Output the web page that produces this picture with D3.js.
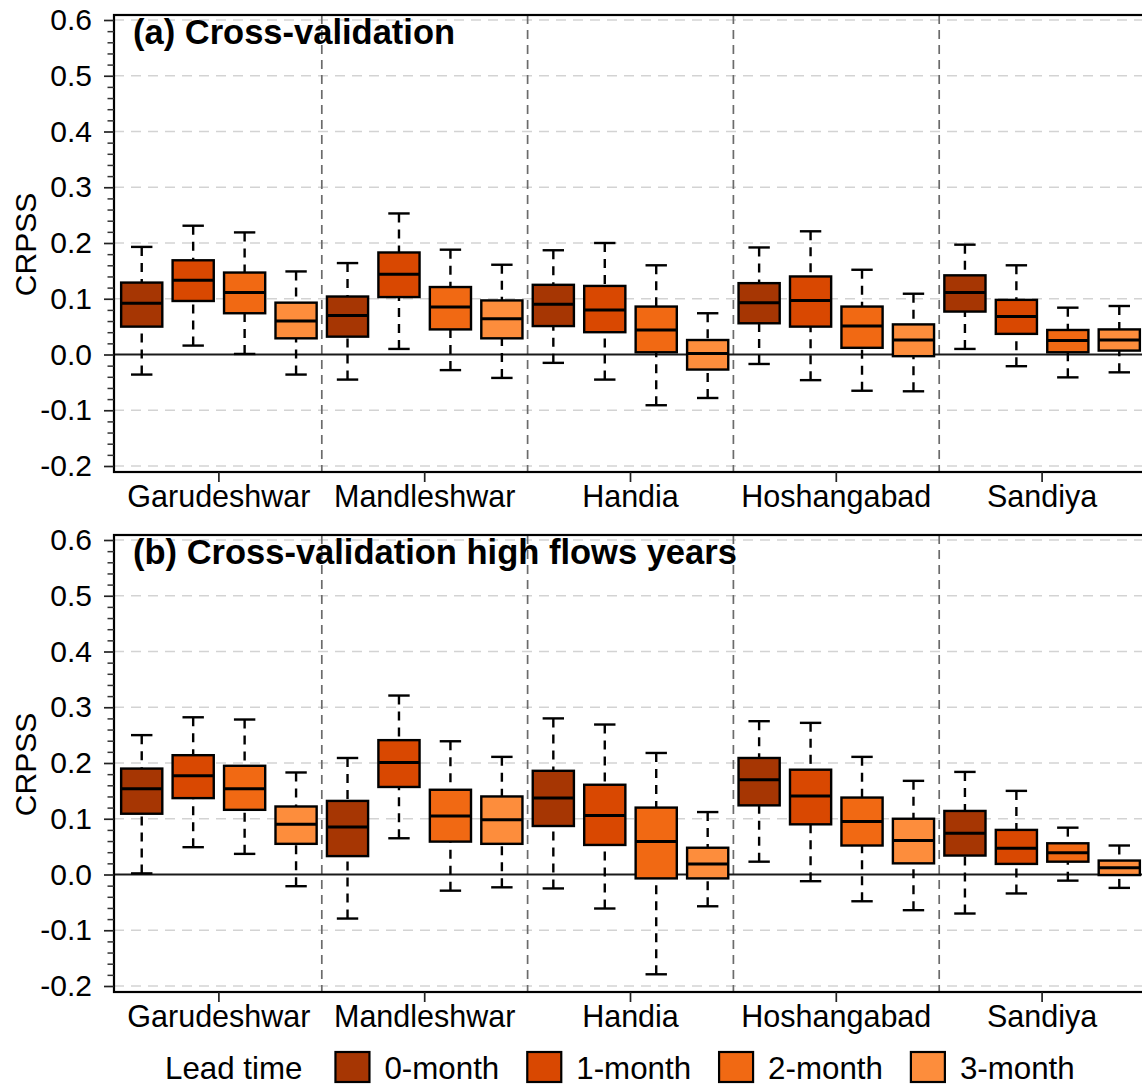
<!DOCTYPE html>
<html>
<head>
<meta charset="utf-8">
<script src="https://cdn.jsdelivr.net/npm/d3@7"></script>
<style>
  body { margin: 0; background: #fff; }
  svg { display: block; font-family: "Liberation Sans", Arial, Helvetica, sans-serif; }
</style>
</head>
<body>
<svg id="chart" width="1142" height="1086"></svg>
<script>
// Gauging stations and forecast lead times
const stations = ["Garudeshwar", "Mandleshwar", "Handia", "Hoshangabad", "Sandiya"];
const leadTimes = ["0-month", "1-month", "2-month", "3-month"];
const leadColors = ["#a63603", "#d94801", "#f16913", "#fd8d3c"];

// y-axis ticks
const majorTicks = [-0.2, -0.1, 0.0, 0.1, 0.2, 0.3, 0.4, 0.5, 0.6];
const minorTicks = d3.range(-20, 61, 2).map(v => v / 100).filter(v => Math.round(v * 100) % 10 !== 0);

// Five-number summaries [min, q1, median, q3, max] per station, per lead time
// (a) all cross-validation years
const crossValidation = [
  [[-0.036, 0.050, 0.092, 0.129, 0.193], [0.016, 0.096, 0.133, 0.169, 0.231], [0.001, 0.074, 0.111, 0.147, 0.219], [-0.036, 0.029, 0.060, 0.093, 0.149]],
  [[-0.045, 0.032, 0.070, 0.104, 0.164], [0.010, 0.103, 0.144, 0.183, 0.253], [-0.028, 0.045, 0.085, 0.121, 0.188], [-0.042, 0.029, 0.064, 0.097, 0.161]],
  [[-0.015, 0.051, 0.090, 0.125, 0.187], [-0.045, 0.040, 0.080, 0.123, 0.200], [-0.091, 0.004, 0.044, 0.086, 0.160], [-0.078, -0.027, 0.002, 0.026, 0.074]],
  [[-0.017, 0.056, 0.093, 0.128, 0.192], [-0.046, 0.050, 0.097, 0.140, 0.221], [-0.065, 0.012, 0.051, 0.086, 0.152], [-0.066, -0.003, 0.026, 0.054, 0.109]],
  [[0.010, 0.077, 0.111, 0.142, 0.197], [-0.021, 0.037, 0.068, 0.098, 0.160], [-0.041, 0.004, 0.025, 0.044, 0.084], [-0.032, 0.007, 0.026, 0.045, 0.087]]
];
// (b) high flow years only
const highFlowYears = [
  [[0.002, 0.109, 0.154, 0.190, 0.250], [0.049, 0.137, 0.177, 0.214, 0.282], [0.037, 0.116, 0.154, 0.195, 0.278], [-0.021, 0.055, 0.090, 0.122, 0.183]],
  [[-0.079, 0.033, 0.085, 0.132, 0.209], [0.065, 0.157, 0.201, 0.241, 0.321], [-0.029, 0.059, 0.105, 0.152, 0.239], [-0.023, 0.055, 0.098, 0.140, 0.211]],
  [[-0.025, 0.087, 0.137, 0.186, 0.280], [-0.061, 0.053, 0.106, 0.161, 0.269], [-0.179, -0.007, 0.059, 0.120, 0.218], [-0.057, -0.007, 0.019, 0.048, 0.112]],
  [[0.023, 0.124, 0.170, 0.209, 0.275], [-0.012, 0.090, 0.141, 0.188, 0.272], [-0.048, 0.052, 0.095, 0.138, 0.211], [-0.064, 0.020, 0.061, 0.100, 0.168]],
  [[-0.070, 0.034, 0.074, 0.114, 0.184], [-0.034, 0.019, 0.047, 0.080, 0.150], [-0.011, 0.023, 0.039, 0.056, 0.084], [-0.024, -0.001, 0.012, 0.025, 0.052]]
];

const panelTitles = ["(a) Cross-validation", "(b) Cross-validation high flows years"];
const panelData = [crossValidation, highFlowYears];

const svg = d3.select("#chart");

// Plot frame (shared by both panels; panel b shifted down)
const frame = { left: 114, right: 1147, top: 15, bottom: 472 };
const panelOffset = 520;

const x = d3.scaleBand().domain(stations).range([116, 1145]).padding(0);
const xLead = d3.scaleBand().domain(leadTimes).range([0, x.bandwidth()]).padding(0);
const boxW = xLead.bandwidth() * 0.8;
const capW = boxW * 0.52;
const y = d3.scaleLinear().domain([-0.2, 0.6]).range([466, 20]);

panelData.forEach((data, p) => {
  const g = svg.append("g").attr("transform", `translate(0,${p * panelOffset})`);

  // horizontal grid
  g.append("g").selectAll("line").data(majorTicks.filter(v => v !== 0)).join("line")
    .attr("x1", frame.left).attr("x2", frame.right)
    .attr("y1", d => y(d)).attr("y2", d => y(d))
    .attr("stroke", "#d3d3d3").attr("stroke-width", 1.7).attr("stroke-dasharray", "10,7");

  // station separators
  g.append("g").selectAll("line").data(stations.slice(1)).join("line")
    .attr("x1", d => x(d)).attr("x2", d => x(d))
    .attr("y1", frame.top).attr("y2", frame.bottom)
    .attr("stroke", "#6b6b6b").attr("stroke-width", 1.7).attr("stroke-dasharray", "9,6");

  // zero reference line
  g.append("line")
    .attr("x1", frame.left).attr("x2", frame.right)
    .attr("y1", y(0)).attr("y2", y(0))
    .attr("stroke", "#1a1a1a").attr("stroke-width", 1.8);

  // boxplots
  const boxes = [];
  stations.forEach((s, i) => leadTimes.forEach((l, j) => {
    const [mn, q1, md, q3, mx] = data[i][j];
    boxes.push({ s, l, j, mn, q1, md, q3, mx, cx: x(s) + xLead(l) + xLead.bandwidth() / 2 });
  }));

  const bg = g.append("g").selectAll("g").data(boxes).join("g");
  // whiskers (dashed)
  bg.append("line").attr("x1", d => d.cx).attr("x2", d => d.cx)
    .attr("y1", d => y(d.mx)).attr("y2", d => y(d.q3))
    .attr("stroke", "#000").attr("stroke-width", 2.4).attr("stroke-dasharray", "9,7");
  bg.append("line").attr("x1", d => d.cx).attr("x2", d => d.cx)
    .attr("y1", d => y(d.mn)).attr("y2", d => y(d.q1))
    .attr("stroke", "#000").attr("stroke-width", 2.4).attr("stroke-dasharray", "9,7");
  // whisker caps
  bg.append("line").attr("x1", d => d.cx - capW / 2).attr("x2", d => d.cx + capW / 2)
    .attr("y1", d => y(d.mx)).attr("y2", d => y(d.mx))
    .attr("stroke", "#000").attr("stroke-width", 2.4);
  bg.append("line").attr("x1", d => d.cx - capW / 2).attr("x2", d => d.cx + capW / 2)
    .attr("y1", d => y(d.mn)).attr("y2", d => y(d.mn))
    .attr("stroke", "#000").attr("stroke-width", 2.4);
  // interquartile box
  bg.append("rect")
    .attr("x", d => d.cx - boxW / 2).attr("width", boxW)
    .attr("y", d => y(d.q3)).attr("height", d => y(d.q1) - y(d.q3))
    .attr("fill", d => leadColors[d.j]).attr("stroke", "#000").attr("stroke-width", 2.4);
  // median
  bg.append("line").attr("x1", d => d.cx - boxW / 2).attr("x2", d => d.cx + boxW / 2)
    .attr("y1", d => y(d.md)).attr("y2", d => y(d.md))
    .attr("stroke", "#000").attr("stroke-width", 3);

  // panel border
  g.append("rect")
    .attr("x", frame.left).attr("y", frame.top)
    .attr("width", frame.right - frame.left).attr("height", frame.bottom - frame.top)
    .attr("fill", "none").attr("stroke", "#000").attr("stroke-width", 2.2);

  // y axis: minor ticks
  const yMinor = g.append("g").attr("transform", `translate(${frame.left},0)`)
    .call(d3.axisLeft(y).tickValues(minorTicks).tickSize(6.5).tickFormat(""));
  yMinor.select(".domain").remove();
  yMinor.selectAll("line").attr("stroke", "#333").attr("stroke-width", 1.5);

  // y axis: major ticks and labels
  const yAxis = g.append("g").attr("transform", `translate(${frame.left},0)`)
    .call(d3.axisLeft(y).tickValues(majorTicks).tickSize(10).tickPadding(12)
      .tickFormat(d => d.toFixed(1)));
  yAxis.select(".domain").remove();
  yAxis.selectAll("line").attr("stroke", "#222").attr("stroke-width", 1.7);
  yAxis.selectAll("text").attr("font-size", 30).attr("fill", "#000")
    .attr("font-family", "'Liberation Sans', Arial, sans-serif");

  // x axis
  const xAxis = g.append("g").attr("transform", `translate(0,${frame.bottom})`)
    .call(d3.axisBottom(x).tickSize(10).tickPadding(3));
  xAxis.select(".domain").remove();
  xAxis.selectAll("line").attr("stroke", "#222").attr("stroke-width", 1.7);
  xAxis.selectAll("text").attr("font-size", 30.5).attr("fill", "#000")
    .attr("font-family", "'Liberation Sans', Arial, sans-serif");

  // y axis title
  g.append("text")
    .attr("transform", `translate(36,${(frame.top + frame.bottom) / 2 + 1}) rotate(-90)`)
    .attr("text-anchor", "middle").attr("font-size", 30).attr("fill", "#000")
    .text("CRPSS");

  // panel title
  g.append("text")
    .attr("x", 133).attr("y", 44)
    .attr("font-size", 34.5).attr("font-weight", "bold").attr("fill", "#000")
    .text(panelTitles[p]);
});

// legend
const legend = svg.append("g").attr("transform", "translate(0,1079)");
const legendTitle = legend.append("text").attr("x", 165).attr("y", 0)
  .attr("font-size", 31.3).attr("fill", "#000").text("Lead time");
let lx = 165 + legendTitle.node().getComputedTextLength() + 33;
leadTimes.forEach((l, j) => {
  legend.append("rect")
    .attr("x", lx).attr("y", -27).attr("width", 34).attr("height", 30)
    .attr("fill", leadColors[j]).attr("stroke", "#000").attr("stroke-width", 2.2);
  const t = legend.append("text").attr("x", lx + 49).attr("y", 0)
    .attr("font-size", 31.3).attr("fill", "#000").text(l);
  lx += 49 + t.node().getComputedTextLength() + 28;
});
</script>
</body>
</html>
